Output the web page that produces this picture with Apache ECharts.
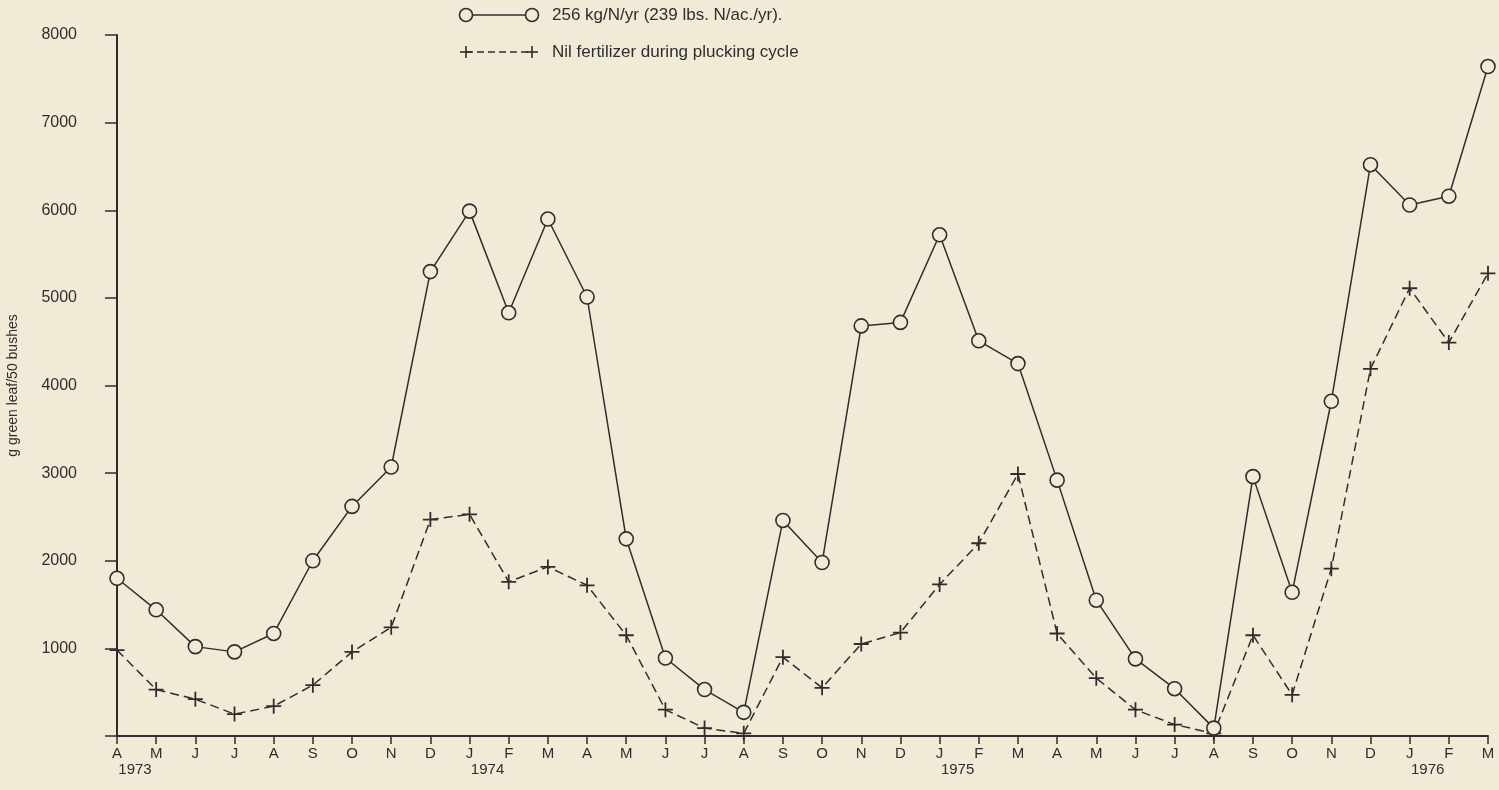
<!DOCTYPE html>
<html>
<head>
<meta charset="utf-8">
<script src="https://cdn.jsdelivr.net/npm/echarts@6/dist/echarts.min.js"></script>
<style>
  html, body { margin: 0; padding: 0; background: #f0ead6; }
  #chart { width: 1499px; height: 790px; }
</style>
</head>
<body>
<div id="chart"></div>
<script>
// months April 1973 .. March 1976
const months = ["A","M","J","J","A","S","O","N","D",
  "J","F","M","A","M","J","J","A","S","O","N","D",
  "J","F","M","A","M","J","J","A","S","O","N","D",
  "J","F","M"];
// year label shown under the month at that index
const yearLabels = { 0: "1973", 9: "1974", 21: "1975", 33: "1976" };

const withNitrogen = [1800, 1440, 1020, 960, 1170, 2000, 2620, 3070, 5300,
  5990, 4830, 5900, 5010, 2250, 890, 530, 270, 2460, 1980, 4680, 4720,
  5720, 4510, 4250, 2920, 1550, 880, 540, 90, 2960, 1640, 3820, 6520,
  6060, 6160, 7640];
const nilFertilizer = [980, 530, 420, 250, 340, 580, 960, 1240, 2470,
  2530, 1760, 1930, 1720, 1150, 300, 90, 30, 900, 550, 1050, 1180,
  1730, 2200, 2990, 1170, 660, 300, 130, 30, 1150, 470, 1910, 4190,
  5110, 4490, 5280];

const seriesNames = ["256 kg/N/yr (239 lbs. N/ac./yr).", "Nil fertilizer during plucking cycle"];

const bg = "#f0ead6";
const ink = "#2e2e2e";
const font = "'Liberation Sans', Arial, sans-serif";
const plusPath = "path://M4.4,0 H5.6 V4.4 H10 V5.6 H5.6 V10 H4.4 V5.6 H0 V4.4 H4.4 Z";

// hand-drawn key: symbol at both ends of a short line, like the printed figure
function keyRow(y, dashed, label) {
  const els = [
    { type: "line", shape: { x1: 466, y1: y, x2: 532, y2: y },
      style: { stroke: ink, lineWidth: 1.5, lineDash: dashed ? [7, 4] : null } },
    { type: "text",
      style: { x: 552, y: y, text: label, fill: ink, font: "17px " + font, verticalAlign: "middle" } }
  ];
  [466, 532].forEach(x => {
    if (dashed) {
      els.push({ type: "line", shape: { x1: x - 6, y1: y, x2: x + 6, y2: y }, style: { stroke: ink, lineWidth: 1.6 } });
      els.push({ type: "line", shape: { x1: x, y1: y - 6, x2: x, y2: y + 6 }, style: { stroke: ink, lineWidth: 1.6 } });
    } else {
      els.push({ type: "circle", shape: { cx: x, cy: y, r: 6.5 }, style: { fill: bg, stroke: ink, lineWidth: 1.6 } });
    }
  });
  return els;
}

const chart = echarts.init(document.getElementById("chart"));

chart.setOption({
  backgroundColor: bg,
  textStyle: { fontFamily: font, color: ink },
  graphic: [...keyRow(15, false, seriesNames[0]), ...keyRow(52, true, seriesNames[1])],
  grid: { left: 117, right: 11, top: 35, bottom: 54, containLabel: false, outerBoundsMode: "none" },
  xAxis: {
    type: "category",
    data: months,
    boundaryGap: false,
    axisLine: { lineStyle: { color: ink, width: 2 } },
    axisTick: { show: true, length: 8, alignWithLabel: true, lineStyle: { color: ink, width: 1.5 } },
    axisLabel: {
      interval: 0,
      margin: 10,
      color: ink,
      formatter: (v, i) => yearLabels[i] ? "{m|" + v + "}\n{y|" + yearLabels[i] + "}" : "{m|" + v + "}",
      rich: {
        m: { fontSize: 15, lineHeight: 16, color: ink, fontFamily: font },
        y: { fontSize: 15, lineHeight: 16, color: ink, fontFamily: font, padding: [0, 0, 0, 36] }
      }
    },
    splitLine: { show: false }
  },
  yAxis: {
    type: "value",
    min: 0,
    max: 8000,
    interval: 1000,
    name: "g green leaf/50 bushes",
    nameLocation: "middle",
    nameGap: 97,
    nameRotate: 90,
    nameTextStyle: { fontSize: 14, color: ink, fontFamily: font },
    axisLine: { show: true, lineStyle: { color: ink, width: 2 } },
    axisTick: { show: true, length: 12, lineStyle: { color: ink, width: 1.5 } },
    axisLabel: {
      fontSize: 16,
      color: ink,
      margin: 40,
      formatter: v => v === 0 ? "" : String(v)
    },
    splitLine: { show: false }
  },
  series: [
    {
      name: seriesNames[0],
      type: "line",
      data: withNitrogen,
      symbol: "circle",
      symbolSize: 14,
      showAllSymbol: true,
      itemStyle: { color: bg, borderColor: ink, borderWidth: 1.6 },
      lineStyle: { color: ink, width: 1.5 },
      z: 3
    },
    {
      name: seriesNames[1],
      type: "line",
      data: nilFertilizer,
      symbol: plusPath,
      symbolSize: 15,
      showAllSymbol: true,
      itemStyle: { color: ink },
      lineStyle: { color: ink, width: 1.5, type: [9, 5] },
      z: 2
    }
  ]
});
</script>
</body>
</html>
